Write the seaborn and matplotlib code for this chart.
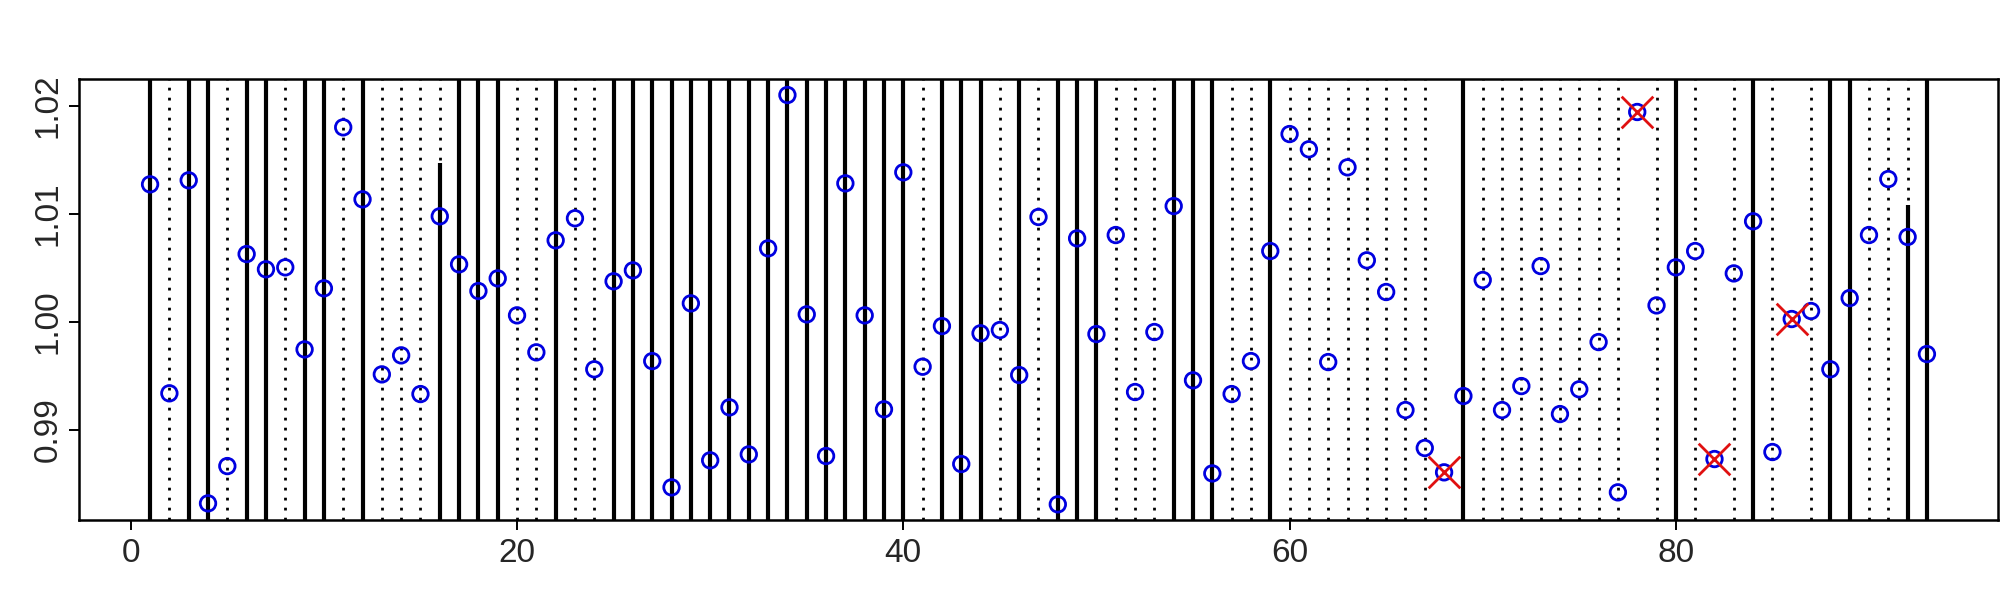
import numpy as np
import pandas as pd
import matplotlib
matplotlib.use("Agg")
import matplotlib.pyplot as plt
import seaborn as sns

# values, index 1..93
values = [1.01271, 0.99338, 1.01308, 0.98320, 0.98665, 1.00626, 1.00485, 1.00503, 0.99744, 1.00309,
          1.01798, 1.01132, 0.99513, 0.99689, 0.99331, 1.00975, 1.00531, 1.00284, 1.00401, 1.00059,
          0.99717, 1.00753, 1.00957, 0.99560, 1.00374, 1.00475, 0.99636, 0.98468, 1.00170, 0.98718,
          0.99208, 0.98773, 1.00679, 1.02097, 1.00068, 0.98758, 1.01280, 1.00059, 0.99190, 1.01382,
          0.99584, 0.99960, 0.98684, 0.99893, 0.99923, 0.99507, 1.00969, 0.98311, 1.00771, 0.99886,
          1.00802, 0.99350, 0.99905, 1.01070, 0.99458, 0.98597, 0.99331, 0.99636, 1.00654, 1.01736,
          1.01595, 0.99627, 1.01428, 1.00568, 1.00275, 0.99183, 0.98832, 0.98607, 0.99313, 1.00386,
          0.99183, 0.99405, 1.00515, 0.99146, 0.99375, 0.99812, 0.98422, 1.01940, 1.00151, 1.00503,
          1.00654, 0.98730, 1.00447, 1.00929, 0.98795, 1.00025, 1.00099, 0.99560, 1.00219, 1.00802,
          1.01320, 1.00784, 0.99701]
index = list(range(1, len(values) + 1))

solid_x = [1, 3, 4, 6, 7, 9, 10, 12, 17, 18, 19, 22, 25, 26, 27, 28, 29, 30, 31, 32, 33, 34,
           35, 36, 37, 38, 39, 40, 42, 43, 44, 46, 48, 49, 50, 54, 55, 56, 59, 69, 80, 84, 88, 89, 93]
dotted_x = [2, 5, 8, 11, 13, 14, 15, 16, 20, 21, 23, 24, 41, 45, 47, 51, 52, 53, 57, 58,
            60, 61, 62, 63, 64, 65, 66, 67, 70, 71, 72, 73, 74, 75, 76, 77, 79, 81, 83, 85,
            87, 90, 91, 92]
partial_x = [16, 92]
partial_top = [1.0147, 1.0108]
flagged_x = [68, 78, 82, 86]

df = pd.DataFrame({"idx": index, "value": values})
flagged = df[df["idx"].isin(flagged_x)]

sns.set_style("white")
plt.rcParams["font.family"] = ["Liberation Sans", "DejaVu Sans"]

fig = plt.figure(figsize=(20, 6), dpi=100)
ax = fig.add_axes([0.0395, 0.1333, 0.9595, 0.735])

ymin, ymax = 0.98166, 1.02245
ax.vlines(solid_x, ymin, ymax, colors="black", linewidth=3.0, zorder=1)
ax.vlines(dotted_x, ymin, ymax, colors="black", linewidth=2.0,
          linestyles=(0, (1, 2.6)), zorder=1)
ax.vlines(partial_x, ymin, partial_top, colors="black", linewidth=3.0, zorder=1)

sns.scatterplot(data=df, x="idx", y="value", ax=ax, marker="o", s=125,
                facecolor="none", edgecolor="#0000e0", linewidth=2.0, zorder=3)
sns.scatterplot(data=flagged, x="idx", y="value", ax=ax, marker="x", s=520,
                color="#e01010", linewidth=2.0, zorder=4)

ax.set_xlim(-2.68, 96.68)
ax.set_ylim(ymin, ymax)
ax.set_xticks([0, 20, 40, 60, 80])
ax.set_yticks([0.99, 1.00, 1.01, 1.02])
ax.set_yticklabels(["0.99", "1.00", "1.01", "1.02"], rotation=90, va="center")
ax.set_xlabel("")
ax.set_ylabel("")
ax.tick_params(axis="both", which="both", direction="out", length=7, width=1.4,
               labelsize=24, color="black", left=True, bottom=True)
ax.tick_params(axis="x", pad=6)
ax.tick_params(axis="y", pad=4)
for sp in ax.spines.values():
    sp.set_visible(True)
    sp.set_color("black")
    sp.set_linewidth(1.8)

fig.savefig("out.png", dpi=100, facecolor="white")
